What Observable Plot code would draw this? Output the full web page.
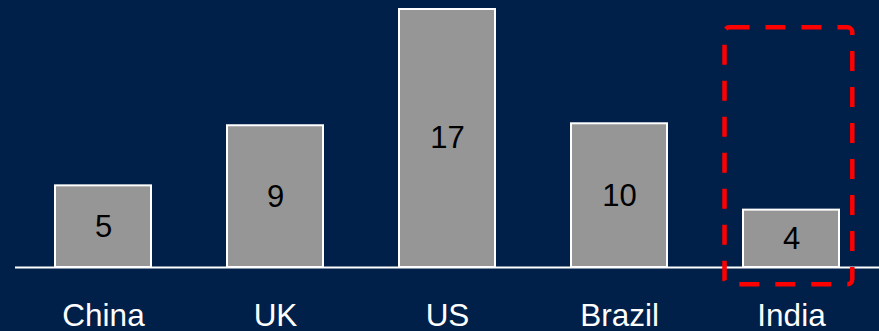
<!DOCTYPE html>
<html>
<head>
<meta charset="utf-8">
<script src="https://cdn.jsdelivr.net/npm/d3@7"></script>
<script src="https://cdn.jsdelivr.net/npm/@observablehq/plot@0.6"></script>
<style>
  html, body { margin: 0; padding: 0; background: #00204a; }
  #chart svg { display: block; }
</style>
</head>
<body>
<div id="chart"></div>
<script>
const countries = ["China", "UK", "US", "Brazil", "India"];
const values = [5.38, 9.34, 17, 9.47, 3.78];
const valueLabels = ["5", "9", "17", "10", "4"];
const highlightCountry = "India";
const highlightRange = [-1.14, 15.79];

const data = countries.map((c, i) => ({country: c, value: values[i], label: valueLabels[i]}));
const highlight = [{country: highlightCountry, y1: highlightRange[0], y2: highlightRange[1]}];

const chart = Plot.plot({
  width: 879,
  height: 331,
  marginLeft: 15,
  marginRight: 0,
  marginTop: 9,
  marginBottom: 64,
  style: {background: "#00204a", fontFamily: "'Liberation Sans', Arial, sans-serif"},
  x: {domain: countries, paddingInner: 0.44, paddingOuter: 0.22, axis: null},
  y: {domain: [0, 17], axis: null},
  marks: [
    Plot.barY(data, {x: "country", y: "value", fill: "#969696", stroke: "white", strokeWidth: 2}),
    Plot.ruleY([0], {stroke: "white", strokeWidth: 2}),
    Plot.text(data, {x: "country", y: d => d.value / 2, text: "label", fill: "black", fontSize: 31}),
    Plot.axisX({tickSize: 0, tickPadding: 36, fontSize: 31.5, color: "white", fill: "white", label: null}),
    Plot.barY(highlight, {x: "country", y1: "y1", y2: "y2", fill: "none", stroke: "#ff0000",
      strokeWidth: 4.5, strokeDasharray: "20,16", rx: 5, insetLeft: -18.5, insetRight: -13.3})
  ]
});
document.getElementById("chart").append(chart);
</script>
</body>
</html>
